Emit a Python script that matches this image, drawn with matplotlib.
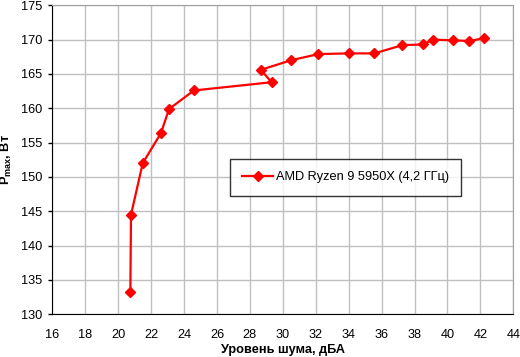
import matplotlib
matplotlib.use('Agg')
import matplotlib.pyplot as plt

# Данные
noise_dba = [20.74, 20.78, 21.49, 22.6, 23.09, 24.6, 29.32, 28.66, 30.5, 32.16,
             34.04, 35.56, 37.26, 38.52, 39.11, 40.36, 41.33, 42.2]
power_w = [133.3, 144.5, 152.0, 156.4, 159.9, 162.6, 163.8, 165.6, 167.0, 167.9,
           168.0, 168.0, 169.2, 169.3, 170.0, 169.9, 169.8, 170.2]
series_name = 'AMD Ryzen 9 5950X (4,2 ГГц)'
x_ticks = list(range(16, 45, 2))
y_ticks = list(range(130, 176, 5))

plt.rcParams['font.family'] = ['Liberation Sans', 'DejaVu Sans']
plt.rcParams['mathtext.fontset'] = 'custom'
plt.rcParams['mathtext.rm'] = 'Liberation Sans:bold'
plt.rcParams['mathtext.bf'] = 'Liberation Sans:bold'

fig = plt.figure(figsize=(5.2, 3.57), dpi=100)
ax = fig.add_axes([0.1006, 0.1196, 0.8866, 0.8655])

ax.plot(noise_dba, power_w, color='#ff0000', lw=1.6, marker='D', markersize=5.5,
        label=series_name, zorder=3)

ax.set_xlim(16, 44)
ax.set_ylim(130, 175)
ax.set_xticks(x_ticks)
ax.set_yticks(y_ticks)
ax.grid(True, color='#c0c0c0', lw=1)
ax.set_axisbelow(True)

for s in ['top', 'right']:
    ax.spines[s].set_color('#a0a0a0')
for s in ['left', 'bottom']:
    ax.spines[s].set_color('black')
ax.tick_params(axis='x', length=0, pad=10.5, labelsize=9.2)
ax.tick_params(axis='y', length=3, width=1, pad=4, labelsize=9.2, direction='out')

ax.set_xlabel('Уровень шума, дБА', fontsize=9.2, fontweight='bold', labelpad=2)
ax.set_ylabel(r'P$_{\mathrm{max}}$, Вт', fontsize=9.2, fontweight='bold', labelpad=5)

leg = ax.legend(loc='center', bbox_to_anchor=(0.636, 0.443), fontsize=9.2,
                frameon=True, fancybox=False, borderpad=1.0, handlelength=2.4,
                handletextpad=0.2, borderaxespad=0)
leg.get_frame().set_edgecolor('black')
leg.get_frame().set_linewidth(1)

plt.savefig('out.png', dpi=100)
